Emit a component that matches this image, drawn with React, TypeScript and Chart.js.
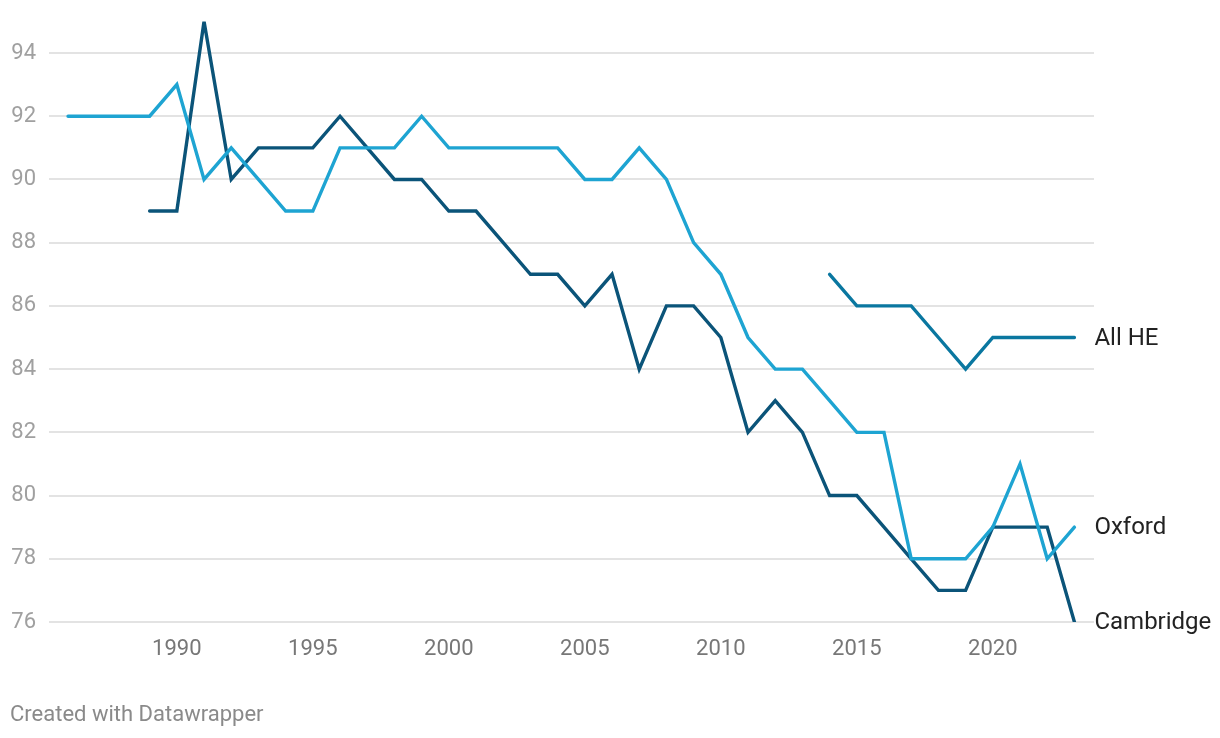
import React, { useEffect, useRef } from "react";
import { Chart, registerables } from "chart.js";

Chart.register(...registerables);

const oxfordYears = [1986, 1987, 1988, 1989, 1990, 1991, 1992, 1993, 1994, 1995, 1996, 1997, 1998, 1999, 2000, 2001, 2002, 2003, 2004, 2005, 2006, 2007, 2008, 2009, 2010, 2011, 2012, 2013, 2014, 2015, 2016, 2017, 2018, 2019, 2020, 2021, 2022, 2023];
const oxfordValues = [92, 92, 92, 92, 93, 90, 91, 90, 89, 89, 91, 91, 91, 92, 91, 91, 91, 91, 91, 90, 90, 91, 90, 88, 87, 85, 84, 84, 83, 82, 82, 78, 78, 78, 79, 81, 78, 79];

const cambridgeYears = [1989, 1990, 1991, 1992, 1993, 1994, 1995, 1996, 1997, 1998, 1999, 2000, 2001, 2002, 2003, 2004, 2005, 2006, 2007, 2008, 2009, 2010, 2011, 2012, 2013, 2014, 2015, 2016, 2017, 2018, 2019, 2020, 2021, 2022, 2023];
const cambridgeValues = [89, 89, 95, 90, 91, 91, 91, 92, 91, 90, 90, 89, 89, 88, 87, 87, 86, 87, 84, 86, 86, 85, 82, 83, 82, 80, 80, 79, 78, 77, 77, 79, 79, 79, 76];

const allHEYears = [2014, 2015, 2016, 2017, 2018, 2019, 2020, 2021, 2022, 2023];
const allHEValues = [87, 86, 86, 86, 85, 84, 85, 85, 85, 85];

const xTickLabels = [1990, 1995, 2000, 2005, 2010, 2015, 2020];
const yTickLabels = [76, 78, 80, 82, 84, 86, 88, 90, 92, 94];

const seriesNames = ["Oxford", "Cambridge", "All HE"];
const seriesColors = ["#1ea4d2", "#0b5479", "#0a77a0"];

const toPoints = (xs: number[], ys: number[]) => xs.map((x, i) => ({ x, y: ys[i] }));

const endLabels = {
  id: "endLabels",
  afterDatasetsDraw(chart: any) {
    const { ctx } = chart;
    const xs = chart.scales.x;
    const ys = chart.scales.y;
    ctx.save();
    ctx.font = "24px Roboto";
    ctx.fillStyle = "#222222";
    ctx.textBaseline = "middle";
    ctx.textAlign = "left";
    chart.data.datasets.forEach((ds: any) => {
      const last = ds.data[ds.data.length - 1];
      ctx.fillText(ds.label, xs.getPixelForValue(last.x) + 20, ys.getPixelForValue(last.y) + 1);
    });
    ctx.restore();
  },
};

export default function App() {
  const ref = useRef<HTMLCanvasElement>(null);
  useEffect(() => {
    if (!ref.current) return;
    const chart = new Chart(ref.current, {
      type: "line",
      data: {
        datasets: [
          { label: seriesNames[0], data: toPoints(oxfordYears, oxfordValues), borderColor: seriesColors[0] },
          { label: seriesNames[1], data: toPoints(cambridgeYears, cambridgeValues), borderColor: seriesColors[1] },
          { label: seriesNames[2], data: toPoints(allHEYears, allHEValues), borderColor: seriesColors[2] },
        ].map((d) => ({
          ...d,
          borderWidth: 3.4,
          pointRadius: 0,
          pointHoverRadius: 0,
          tension: 0,
          fill: false,
          borderJoinStyle: "miter" as const,
          borderCapStyle: "round" as const,
        })),
      },
      plugins: [endLabels],
      options: {
        animation: false,
        responsive: false,
        maintainAspectRatio: false,
        layout: { padding: { top: 21.4, right: 126, left: 0, bottom: 0 } },
        plugins: { legend: { display: false }, tooltip: { enabled: false } },
        scales: {
          x: {
            type: "linear",
            min: 1985.3,
            max: 2023.72,
            grid: { display: false, drawTicks: false },
            border: { display: false },
            afterBuildTicks: (axis: any) => {
              axis.ticks = xTickLabels.map((v) => ({ value: v }));
            },
            afterFit: (axis: any) => {
              axis.height = 116;
              axis.paddingLeft = 0;
              axis.paddingRight = 0;
            },
            ticks: {
              autoSkip: false,
              maxRotation: 0,
              padding: 14,
              color: "#777777",
              font: { family: "Roboto", size: 22 },
              callback: (v: any) => String(v),
            },
          },
          y: {
            type: "linear",
            min: 76,
            max: 95,
            grid: { color: "#e3e3e3", lineWidth: 2, drawTicks: false },
            border: { display: false },
            afterBuildTicks: (axis: any) => {
              axis.ticks = yTickLabels.map((v) => ({ value: v }));
            },
            afterFit: (axis: any) => {
              axis.width = 49;
              axis.paddingTop = 0;
              axis.paddingBottom = 0;
            },
            ticks: {
              padding: 13,
              color: "#a0a0a0",
              font: { family: "Roboto", size: 22 },
              callback: (v: any) => String(v),
            },
          },
        },
      },
    });
    return () => chart.destroy();
  }, []);

  return (
    <div style={{ position: "absolute", left: 0, top: 0, width: 1220, height: 738, background: "#fff" }}>
      <canvas ref={ref} width={1220} height={738} style={{ position: "absolute", left: 0, top: 0, width: 1220, height: 738 }} />
      <div
        style={{
          position: "absolute",
          left: 10,
          top: 701,
          fontFamily: "Roboto",
          fontSize: 22,
          color: "#8a8a8a",
          lineHeight: "26px",
          whiteSpace: "nowrap",
        }}
      >
        Created with Datawrapper
      </div>
    </div>
  );
}
